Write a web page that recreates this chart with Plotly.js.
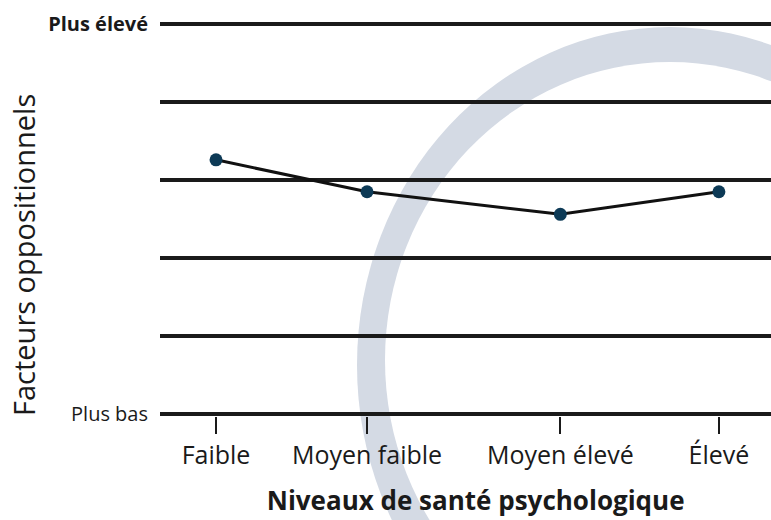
<!DOCTYPE html>
<html>
<head>
<meta charset="utf-8">
<script src="https://cdn.plot.ly/plotly-3.0.1.min.js"></script>
<style>html,body{margin:0;padding:0;background:#fff;}#chart{width:771px;height:520px;}</style>
</head>
<body>
<div id="chart"></div>
<script>
// Data
const categories = ['Faible', 'Moyen faible', 'Moyen élevé', 'Élevé'];
const categoryPositions = [1, 2, 3.28, 4.33];
const values = [3.26, 2.85, 2.56, 2.85];
const yTickVals = [0, 1, 2, 3, 4, 5];
const yTickText = ['Plus bas', '', '', '', '', '<b>Plus élevé</b>'];
const xTitle = 'Niveaux de santé psychologique';
const yTitle = 'Facteurs oppositionnels';

const FONT = '"Open Sans", "Noto Sans", sans-serif';

// pixel -> paper helpers for placement
const L = 160, R = 771, T = 22, B = 416;
const px = p => (p - L) / (R - L);
const py = p => (B - p) / (B - T);
function ellipse(cx, cy, rx, ry, color) {
  return {type: 'circle', xref: 'paper', yref: 'paper', layer: 'below',
    x0: px(cx - rx), x1: px(cx + rx), y0: py(cy + ry), y1: py(cy - ry),
    fillcolor: color, line: {width: 0}};
}

const trace = {
  x: categoryPositions, y: values, type: 'scatter', mode: 'lines+markers',
  line: {color: '#111111', width: 3},
  marker: {color: '#0d3a56', size: 13},
  hoverinfo: 'skip', showlegend: false
};

const layout = {
  width: 771, height: 520,
  margin: {l: L, r: 0, t: T, b: 520 - B},
  paper_bgcolor: '#ffffff', plot_bgcolor: 'rgba(0,0,0,0)',
  font: {family: FONT, color: '#1a1a1a'},
  xaxis: {
    range: [0.629, 4.675], tickvals: categoryPositions, ticktext: categories,
    showgrid: false, zeroline: false, showline: false,
    ticks: 'outside', ticklen: 17, tickwidth: 2, tickcolor: '#1a1a1a',
    tickfont: {size: 25, family: FONT, color: '#1a1a1a'},
    title: {text: '&nbsp;&nbsp;&nbsp;<b>' + xTitle + '</b>', font: {size: 26, family: FONT, color: '#1a1a1a'}, standoff: 21},
    fixedrange: true
  },
  yaxis: {
    range: [-0.03, 5.03], tickvals: yTickVals, ticktext: yTickText,
    showgrid: true, gridcolor: '#1a1a1a', gridwidth: 4, zeroline: false, showline: false,
    ticks: '', ticklabelstandoff: 11,
    tickfont: {size: 20, family: FONT, color: '#1a1a1a'},
    fixedrange: true
  },
  annotations: [{
    text: yTitle, xref: 'paper', yref: 'paper', x: px(23), y: py(255),
    xanchor: 'center', yanchor: 'middle', textangle: -90, showarrow: false,
    font: {size: 29, family: FONT, color: '#1a1a1a'}
  }],
  shapes: [
    ellipse(670, 365, 313, 338, '#d4dae4'),
    ellipse(670, 360, 285, 298, '#ffffff')
  ]
};

Plotly.newPlot('chart', [trace], layout, {displayModeBar: false, staticPlot: true});
</script>
</body>
</html>
